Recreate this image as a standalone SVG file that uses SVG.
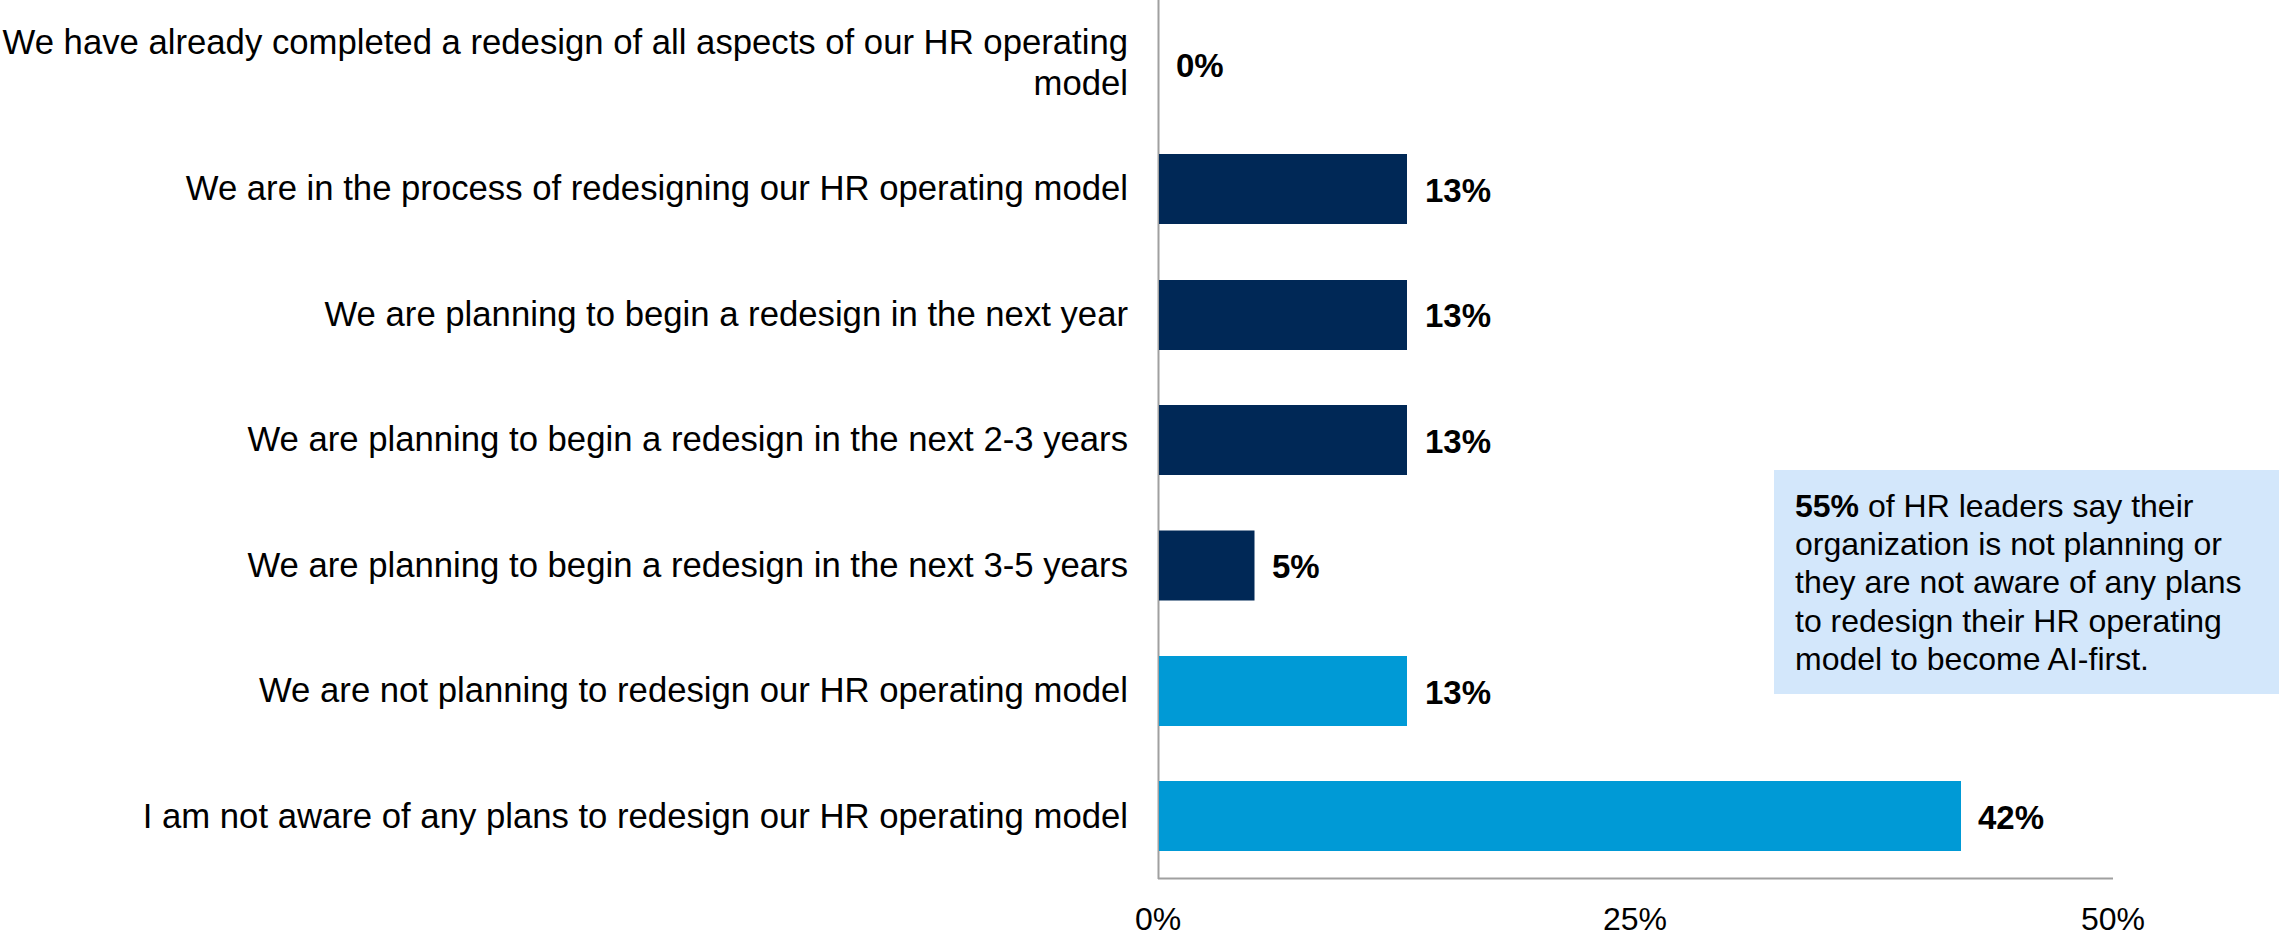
<svg xmlns="http://www.w3.org/2000/svg" width="2279" height="939" viewBox="0 0 2279 939">
<style>
text{font-family:"Liberation Sans",Arial,sans-serif;fill:#000}
.cat{font-size:34.7px;text-anchor:end}
.val{font-size:33px;font-weight:bold}
.tick{font-size:32px;text-anchor:middle}
.dark{fill:#002856}
.light{fill:#009ad6}
.axis{stroke:#a0a0a0;stroke-width:2;fill:none}
.note{font-size:32px}
</style>
<rect width="2279" height="939" fill="#fff"/>
<g id="axes">
<line class="axis" x1="1158.5" y1="0" x2="1158.5" y2="879"/>
<line class="axis" x1="1158" y1="878.5" x2="2113" y2="878.5"/>
</g>
<g id="row1">
<text class="cat" x="1128" y="54">We have already completed a redesign of all aspects of our HR operating</text>
<text class="cat" x="1128" y="95">model</text>
<text class="val" x="1176" y="77">0%</text>
</g>
<g id="row2">
<rect class="dark" x="1159" y="154" width="248" height="70"/>
<text class="cat" x="1128" y="200">We are in the process of redesigning our HR operating model</text>
<text class="val" x="1425" y="202">13%</text>
</g>
<g id="row3">
<rect class="dark" x="1159" y="280" width="248" height="70"/>
<text class="cat" x="1128" y="326">We are planning to begin a redesign in the next year</text>
<text class="val" x="1425" y="327">13%</text>
</g>
<g id="row4">
<rect class="dark" x="1159" y="405" width="248" height="70"/>
<text class="cat" x="1128" y="451">We are planning to begin a redesign in the next 2-3 years</text>
<text class="val" x="1425" y="453">13%</text>
</g>
<g id="row5">
<rect class="dark" x="1159" y="530.5" width="95.5" height="70"/>
<text class="cat" x="1128" y="577">We are planning to begin a redesign in the next 3-5 years</text>
<text class="val" x="1272" y="578">5%</text>
</g>
<g id="row6">
<rect class="light" x="1159" y="656" width="248" height="70"/>
<text class="cat" x="1128" y="702">We are not planning to redesign our HR operating model</text>
<text class="val" x="1425" y="704">13%</text>
</g>
<g id="row7">
<rect class="light" x="1159" y="781" width="802" height="70"/>
<text class="cat" x="1128" y="828">I am not aware of any plans to redesign our HR operating model</text>
<text class="val" x="1978" y="829">42%</text>
</g>
<g id="ticks">
<text class="tick" x="1158" y="930">0%</text>
<text class="tick" x="1635" y="930">25%</text>
<text class="tick" x="2113" y="930">50%</text>
</g>
<g id="callout">
<rect x="1774" y="470" width="505" height="224" fill="#d3e7fb"/>
<text class="note" x="1795" y="517"><tspan font-weight="bold">55%</tspan> of HR leaders say their</text>
<text class="note" x="1795" y="555">organization is not planning or</text>
<text class="note" x="1795" y="593">they are not aware of any plans</text>
<text class="note" x="1795" y="632">to redesign their HR operating</text>
<text class="note" x="1795" y="670">model to become AI-first.</text>
</g>
</svg>
